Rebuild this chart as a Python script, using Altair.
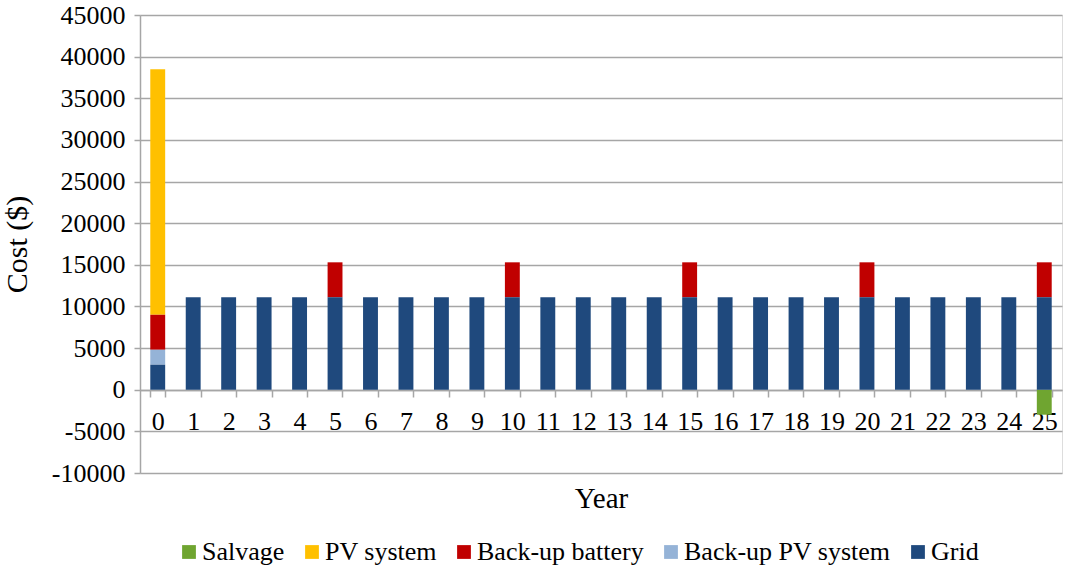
import altair as alt
import pandas as pd

# Yearly cost components ($)
years = list(range(26))
grid = [3000] + [11100] * 25
backup_pv = [1800] + [0] * 25
backup_battery = [4200 if (y % 5 == 0) else 0 for y in years]
pv_system = [29500] + [0] * 25
salvage = [0] * 25 + [-3000]

series_names = ["Salvage", "PV system", "Back-up battery", "Back-up PV system", "Grid"]
series_colors = ["#6FA530", "#FFC000", "#C00000", "#95B3D7", "#1F497D"]
# stacking order from the zero line upwards
stack_rank = {"Grid": 0, "Back-up PV system": 1, "Back-up battery": 2, "PV system": 3, "Salvage": 4}

values_by_series = {
    "Salvage": salvage,
    "PV system": pv_system,
    "Back-up battery": backup_battery,
    "Back-up PV system": backup_pv,
    "Grid": grid,
}

rows = []
for name, vals in values_by_series.items():
    for y, v in zip(years, vals):
        if v != 0:
            rows.append({"Year": y, "Series": name, "Cost": v, "rank": stack_rank[name]})
df = pd.DataFrame(rows)

FONT = "Liberation Serif, Times New Roman, serif"
GRID_COLOR = "#a6a6a6"

chart = (
    alt.Chart(df)
    .mark_bar()
    .encode(
        x=alt.X(
            "Year:O",
            scale=alt.Scale(domain=years, paddingInner=0.58, paddingOuter=0.29),
            axis=alt.Axis(
                title="Year",
                labelAngle=0,
                offset=-83,
                tickBand="extent",
                tickSize=7,
                tickColor=GRID_COLOR,
                tickWidth=1.5,
                domainColor=GRID_COLOR,
                domainWidth=1.5,
                labelPadding=11,
                labelFont=FONT,
                labelFontSize=26,
                labelColor="black",
                titleFont=FONT,
                titleFontSize=29,
                titleFontWeight="normal",
                titleColor="black",
                titleY=94,
                grid=False,
            ),
        ),
        y=alt.Y(
            "Cost:Q",
            stack="zero",
            scale=alt.Scale(domain=[-10000, 45000], nice=False),
            axis=alt.Axis(
                title="Cost ($)",
                values=list(range(-10000, 45001, 5000)),
                labelExpr="'' + datum.value",
                tickSize=6,
                tickColor=GRID_COLOR,
                tickWidth=1.5,
                domainColor=GRID_COLOR,
                domainWidth=1.5,
                gridColor=GRID_COLOR,
                gridWidth=1.5,
                labelFont=FONT,
                labelFontSize=26,
                labelColor="black",
                labelPadding=9,
                titleFont=FONT,
                titleFontSize=30,
                titleFontWeight="normal",
                titleColor="black",
                titlePadding=19,
            ),
        ),
        color=alt.Color(
            "Series:N",
            scale=alt.Scale(domain=series_names, range=series_colors),
            legend=alt.Legend(
                title=None,
                orient="none",
                legendX=36,
                legendY=524,
                direction="horizontal",
                columns=5,
                symbolType="square",
                symbolSize=190,
                symbolStrokeWidth=0,
                labelFont=FONT,
                labelFontSize=26,
                labelColor="black",
                labelLimit=400,
                labelOffset=0,
                columnPadding=14,
            ),
        ),
        order=alt.Order("rank:Q", sort="ascending"),
    )
    .properties(
        width=922,
        height=458,
        autosize=alt.AutoSizeParams(type="none"),
        padding={"left": 140, "top": 15, "right": 6, "bottom": 94},
    )
    .configure_view(stroke=None)
    .configure(background="white", font=FONT)
)

chart.save("out.html", embed_options={"renderer": "svg", "actions": False})
